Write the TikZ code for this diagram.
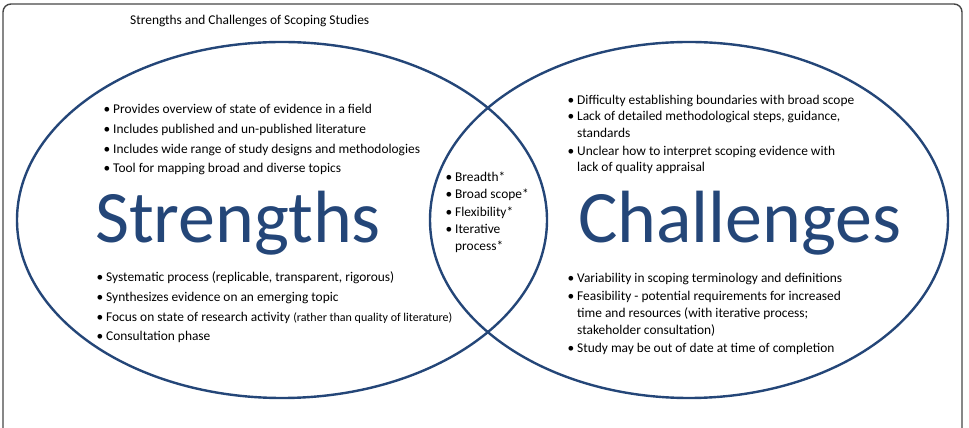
\documentclass[tikz,border=0pt]{standalone}
\usepackage{fontspec}
\setmainfont{Carlito}
\definecolor{vennblue}{RGB}{36,70,120}
\definecolor{framegray}{RGB}{70,70,70}
\newcommand{\bul}{\llap{\textbullet\hspace{3pt}}}
\tikzset{
  txt/.style={anchor=base west, inner sep=0pt, font=\fontsize{13.4}{15}\selectfont},
  bigword/.style={anchor=base west, inner sep=0pt, text=vennblue, font=\fontsize{74}{80}\selectfont},
  circ/.style={draw=vennblue, line width=2.4pt}
}
\begin{document}
\begin{tikzpicture}[x=1pt, y=1pt]
  \useasboundingbox (0,0) rectangle (969,428);
  % outer frame (bottom edge runs off the page)
  \draw[framegray, line width=1.4pt, rounded corners=8pt] (3,-20) rectangle (962,424);
  \node[txt] (title) at (130,403) {Strengths and Challenges of Scoping Studies};
  % the two sets
  \draw[circ] (282,208) ellipse [x radius=265, y radius=178];
  \draw[circ] (689,208) ellipse [x radius=259, y radius=178];
  % Strengths
  \node[bigword] (strengths) at (95,185) {Strengths};
  \node[txt] (st1) at (113,314) {\bul Provides overview of state of evidence in a field};
  \node[txt] (st2) at (113,294) {\bul Includes published and un-published literature};
  \node[txt] (st3) at (113,274) {\bul Includes wide range of study designs and methodologies};
  \node[txt] (st4) at (113,255) {\bul Tool for mapping broad and diverse topics};
  \node[txt] (sb1) at (106,146) {\bul Systematic process (replicable, transparent, rigorous)};
  \node[txt] (sb2) at (106,126) {\bul Synthesizes evidence on an emerging topic};
  \node[txt] (sb3) at (106,106) {\bul Focus on state of research activity {\fontsize{12}{13}\selectfont(rather than quality of literature)}};
  \node[txt] (sb4) at (106,87) {\bul Consultation phase};
  % overlap
  \node[txt] (c1) at (455,246) {\bul Breadth*};
  \node[txt] (c2) at (455,229) {\bul Broad scope*};
  \node[txt] (c3) at (455,211) {\bul Flexibility*};
  \node[txt] (c4) at (455,194) {\bul Iterative};
  \node[txt] (c5) at (455,177) {process*};
  % Challenges
  \node[bigword] (challenges) at (578,185) {Challenges};
  \node[txt] (ct1) at (577,323) {\bul Difficulty establishing boundaries with broad scope};
  \node[txt] (ct2) at (577,307) {\bul Lack of detailed methodological steps, guidance,};
  \node[txt] (ct3) at (577,290) {standards};
  \node[txt] (ct4) at (577,272) {\bul Unclear how to interpret scoping evidence with};
  \node[txt] (ct5) at (577,256) {lack of quality appraisal};
  \node[txt] (cb1) at (577,145) {\bul Variability in scoping terminology and definitions};
  \node[txt] (cb2) at (577,127) {\bul Feasibility - potential requirements for increased};
  \node[txt] (cb3) at (577,110) {time and resources (with iterative process;};
  \node[txt] (cb4) at (577,93) {stakeholder consultation)};
  \node[txt] (cb5) at (577,75) {\bul Study may be out of date at time of completion};
\end{tikzpicture}
\end{document}
